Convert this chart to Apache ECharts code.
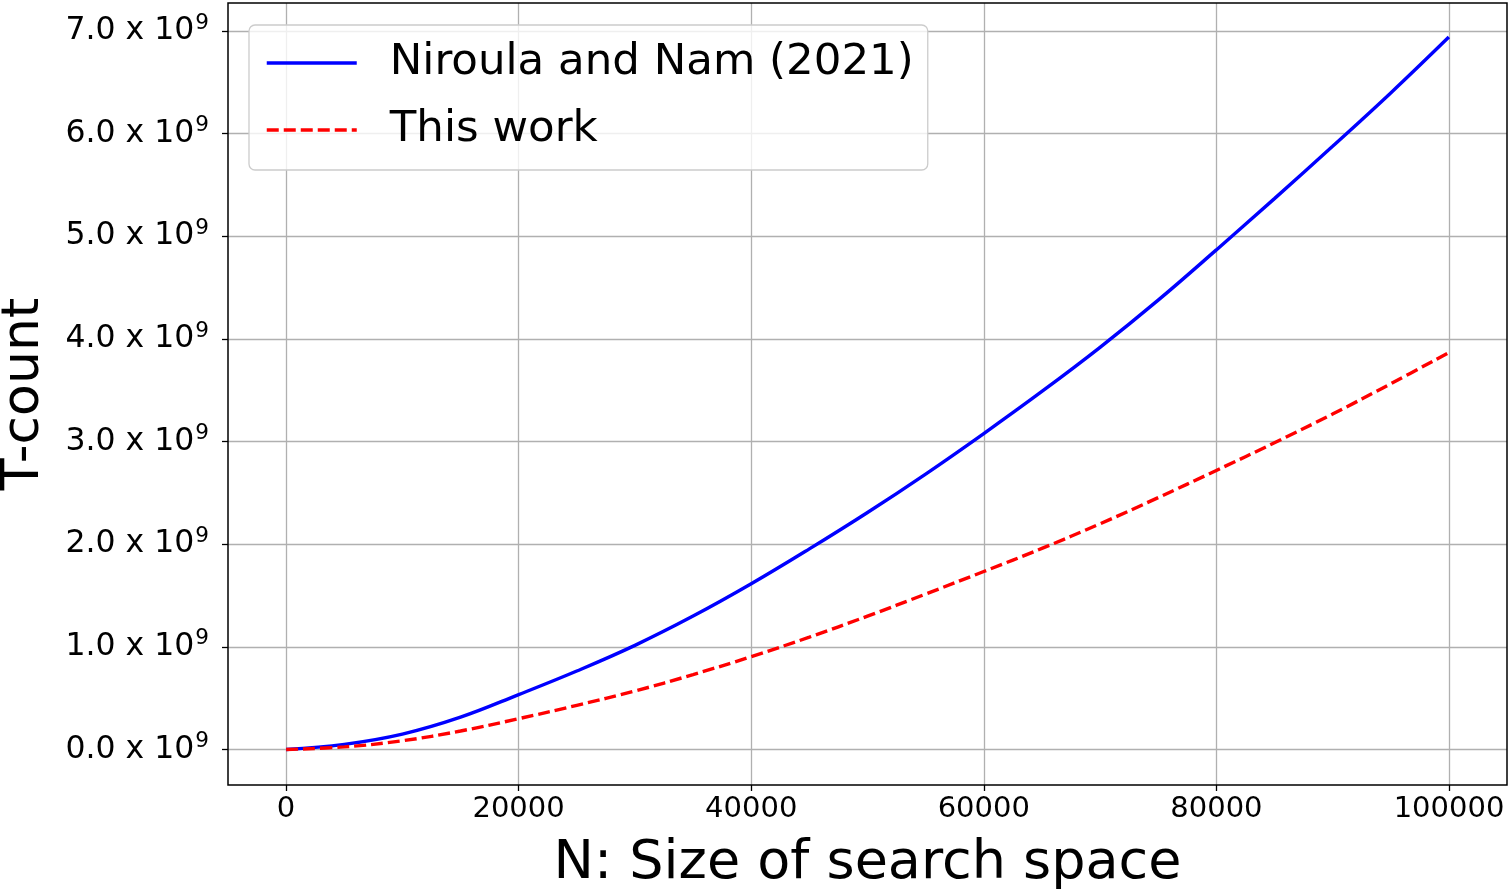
<!DOCTYPE html>
<html>
<head>
<meta charset="utf-8">
<script src="https://cdn.jsdelivr.net/npm/echarts@6/dist/echarts.min.js"></script>
<style>
html,body{margin:0;padding:0;background:#fff;}
#chart{width:1510px;height:893px;}
</style>
</head>
<body>
<div id="chart"></div>
<script>
// Data (y in units of 10^9)
const nValues = [0,5000,10000,15000,20000,25000,30000,35000,40000,45000,50000,55000,60000,65000,70000,75000,80000,85000,90000,95000,100000];
const niroulaNam = [0,0.05,0.15,0.315,0.535,0.765,1.015,1.30,1.615,1.955,2.31,2.685,3.08,3.49,3.92,4.38,4.87,5.37,5.88,6.40,6.945];
const thisWork = [0,0.025,0.085,0.18,0.30,0.43,0.57,0.73,0.905,1.095,1.30,1.515,1.735,1.96,2.20,2.455,2.72,2.99,3.27,3.565,3.87];
const seriesNames = ['Niroula and Nam (2021)', 'This work'];
const xTickValues = [0,20000,40000,60000,80000,100000];
const yTickValues = [0,1,2,3,4,5,6,7];

const FONT = 'DejaVu Sans';
const chart = echarts.init(document.getElementById('chart'), null, {renderer:'canvas'});

const pairs = arr => nValues.map((n,i)=>[n, arr[i]]);

const option = {
  backgroundColor:'#fff',
  animation:false,
  textStyle:{fontFamily:FONT},
  grid:[
    {left:228, right:3, top:3, bottom:108, containLabel:false, outerBoundsMode:'none',
     show:true, borderColor:'#000', borderWidth:1.5, backgroundColor:'transparent', z:3},
    {left:286, right:61, top:3, bottom:108, containLabel:false, outerBoundsMode:'none'},
    {left:228, right:3, top:31, bottom:143.5, containLabel:false, outerBoundsMode:'none'}
  ],
  xAxis:[
    {type:'value', gridIndex:0, min:-5000, max:105000,
     axisLine:{show:false}, axisTick:{show:false}, axisLabel:{show:false}, splitLine:{show:false},
     name:'N: Size of search space', nameLocation:'middle', nameGap:52,
     nameTextStyle:{fontFamily:FONT, fontSize:54, color:'#000'}},
    {type:'value', gridIndex:1, min:xTickValues[0], max:xTickValues[xTickValues.length-1], interval:20000,
     axisLine:{show:false},
     axisTick:{show:true, length:6, lineStyle:{color:'#000', width:1.3}},
     axisLabel:{show:true, margin:10, fontFamily:FONT, fontSize:29, color:'#000', formatter:v=>String(v)},
     splitLine:{show:true, lineStyle:{color:'#b0b0b0', width:1.3}}},
    {type:'value', gridIndex:2, show:false}
  ],
  yAxis:[
    {type:'value', gridIndex:0, min:-0.3465, max:7.277,
     axisLine:{show:false}, axisTick:{show:false}, axisLabel:{show:false}, splitLine:{show:false},
     name:'T-count', nameLocation:'middle', nameGap:178, nameRotate:90,
     nameTextStyle:{fontFamily:FONT, fontSize:52, color:'#000'}},
    {type:'value', gridIndex:1, show:false},
    {type:'value', gridIndex:2, min:yTickValues[0], max:yTickValues[yTickValues.length-1], interval:1,
     axisLine:{show:false},
     axisTick:{show:true, length:6, lineStyle:{color:'#000', width:1.3}},
     axisLabel:{show:true, margin:19,
       formatter:v=>'{a|'+v.toFixed(1)+' x 10}{b|9}',
       rich:{
         a:{fontFamily:FONT, fontSize:31.5, color:'#000'},
         b:{fontFamily:FONT, fontSize:21.5, color:'#000', padding:[0,0,16,1]}
       }},
     splitLine:{show:true, lineStyle:{color:'#b0b0b0', width:1.3}}}
  ],
  legend:{
    orient:'vertical', left:249, top:25,
    itemWidth:90, itemHeight:8, itemGap:17,
    padding:[13,14,15,16],
    backgroundColor:'rgba(255,255,255,0.8)', borderColor:'#cccccc', borderWidth:1.3, borderRadius:6,
    textStyle:{fontFamily:FONT, fontSize:43.5, color:'#000', lineHeight:50, padding:[0,0,0,28]},
    lineStyle:{width:3.5},
    itemStyle:{opacity:0},
    data:seriesNames
  },
  series:[
    {name:seriesNames[0], type:'line', xAxisIndex:0, yAxisIndex:0, data:pairs(niroulaNam),
     smooth:0.4, showSymbol:false, symbol:'none', color:'#0000ff',
     lineStyle:{color:'#0000ff', width:3.4}, z:5},
    {name:seriesNames[1], type:'line', xAxisIndex:0, yAxisIndex:0, data:pairs(thisWork),
     smooth:0.4, showSymbol:false, symbol:'none', color:'#ff0000',
     lineStyle:{color:'#ff0000', width:3.4, type:[12,5]}, z:5}
  ]
};
chart.setOption(option);
</script>
</body>
</html>
